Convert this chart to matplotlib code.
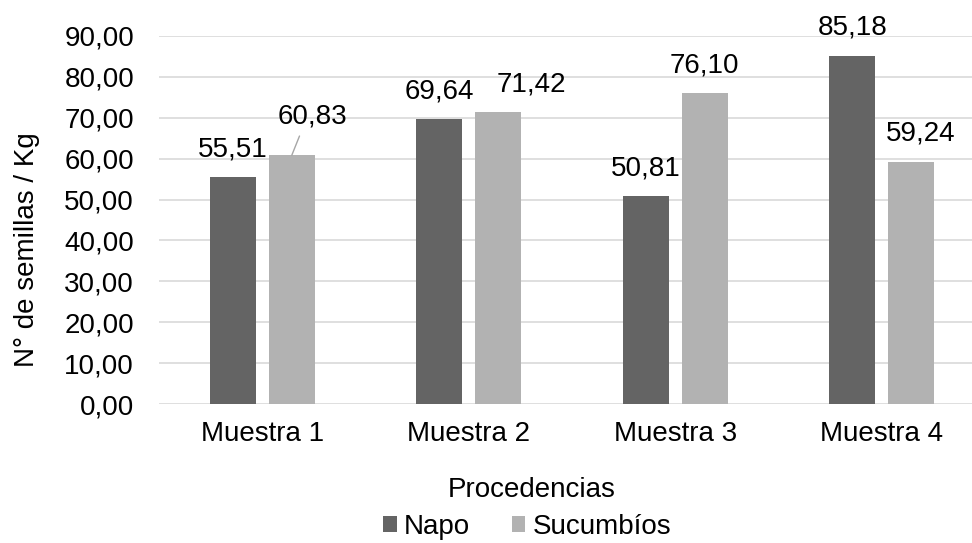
import numpy as np
import matplotlib.pyplot as plt

plt.rcParams['font.family'] = ['Liberation Sans', 'DejaVu Sans']

muestras = ['Muestra 1', 'Muestra 2', 'Muestra 3', 'Muestra 4']
napo = [55.51, 69.64, 50.81, 85.18]
sucumbios = [60.83, 71.42, 76.10, 59.24]
yticks = [0, 10, 20, 30, 40, 50, 60, 70, 80, 90]

c_napo = '#646464'
c_suc = '#b2b2b2'
fs = 20

fig = plt.figure(figsize=(9.72, 5.43), dpi=100)
ax = fig.add_axes([159 / 972, 139 / 543, 1 - 159 / 972, 368 / 543])

x = np.arange(len(muestras))
w = 0.223
off = 0.143
b1 = ax.bar(x - off, napo, w, color=c_napo, label='Napo', zorder=3)
b2 = ax.bar(x + off, sucumbios, w, color=c_suc, label='Sucumbíos', zorder=3)

ax.set_xlim(-0.5, 3.437)
ax.set_ylim(0, 90)
ax.set_yticks(yticks)
ax.set_yticklabels([f'{v:.2f}'.replace('.', ',') for v in yticks], fontsize=fs)
ax.set_xticks(x)
ax.set_xticklabels(muestras, fontsize=fs)
ax.tick_params(axis='both', length=0)
ax.tick_params(axis='y', pad=18)
ax.tick_params(axis='x', pad=12)
for s in ax.spines.values():
    s.set_visible(False)
ax.yaxis.grid(True, color='#d9d9d9', lw=1.2, zorder=0)
ax.set_axisbelow(True)

# etiquetas de datos: (serie, muestra) -> desplazamiento x, y en puntos
shift = {(1, 0): (15, 28), (1, 1): (24, 20), (1, 3): (7, 20)}
for s_i, (vals, xs) in enumerate([(napo, x - off), (sucumbios, x + off)]):
    for i, (xi, v) in enumerate(zip(xs, vals)):
        dx, dy = shift.get((s_i, i), (0, 20))
        txt = f'{v:.2f}'.replace('.', ',')
        if (s_i, i) == (1, 0):
            # etiqueta desplazada con línea guía
            ax.annotate(txt, (xi, v), xytext=(dx, dy), textcoords='offset points',
                        ha='center', va='center', fontsize=fs,
                        arrowprops=dict(arrowstyle='-', color='#a6a6a6', lw=1,
                                        shrinkA=3, shrinkB=0, relpos=(0.35, 0)))
        else:
            ax.annotate(txt, (xi, v), xytext=(dx, dy), textcoords='offset points',
                        ha='center', va='center', fontsize=fs)

fig.text(27 / 972, 1 - 250 / 543, 'N° de semillas / Kg', rotation=90,
         ha='center', va='center', fontsize=fs)
fig.text(532 / 972, 1 - 490 / 543, 'Procedencias', ha='center', va='center', fontsize=fs)

fig.legend(handles=[b1, b2], loc='center', bbox_to_anchor=(527 / 972, 1 - 527 / 543),
           ncol=2, frameon=False, fontsize=fs, handlelength=0.5, handleheight=0.5,
           handletextpad=0.25, columnspacing=1.5, borderpad=0)

fig.savefig('out.png', dpi=100)
